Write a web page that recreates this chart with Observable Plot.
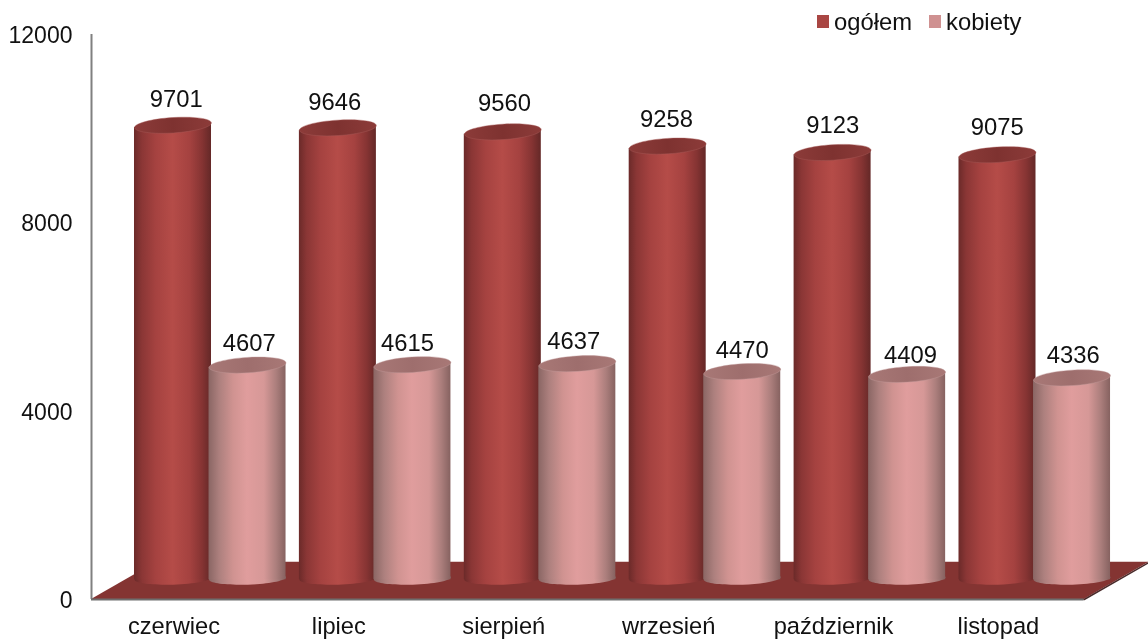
<!DOCTYPE html>
<html><head><meta charset="utf-8">
<script src="https://cdn.jsdelivr.net/npm/d3@7"></script>
<script src="https://cdn.jsdelivr.net/npm/@observablehq/plot@0.6"></script>
<style>
html,body{margin:0;padding:0;background:#fff;overflow:hidden}
#wrap{position:relative;width:1148px;height:644px;font-family:"Liberation Sans",Arial,sans-serif;color:#111;filter:blur(0.3px)}
.lg{position:absolute;font-size:23.8px;line-height:26px;top:9px;white-space:nowrap}
.sw{position:absolute;width:12px;height:13px;top:15px}
</style></head><body>
<div id="wrap">
<div class="sw" style="left:817px;background:#a94643"></div><div class="lg" style="left:834px">ogółem</div>
<div class="sw" style="left:929px;background:#cf9191"></div><div class="lg" style="left:946px">kobiety</div>
</div>
<script>
const months = ["czerwiec","lipiec","sierpień","wrzesień","październik","listopad"];
const ogolem = [9701,9646,9560,9258,9123,9075];
const kobiety = [4607,4615,4637,4470,4409,4336];
const yTicks = [0,4000,8000,12000];

// 3D look: plane offset and sizes of the picture's fake perspective
const depthDx = 35, depthDy = -17.5, baseDy = -21, barUnits = 0.467, slopeUnits = 50, baseUnits = 50;
const ogolemPos = 0.282, kobietyPos = 0.734, floorDepth = 790, floorShift = 0.394, floorEnd = 6.02;
const ogolemDx = [3.2,-3.1,1.7,-1.2,.2,-.3], kobietyDx = [1.7,-4.9,-3.5,0,3.4,1.2];
const ogolemDy = [-43.3,-42.6,-45.6,-44.1,-44.5,-45], kobietyDy = [-38.8,-39,-40,-38.6,-36.4,-39.9];

const rows = (vals, pos, key) => vals.flatMap((v,i)=>[
  {k:key+i, x:i+pos-barUnits/2, base:baseUnits, top:v-slopeUnits},
  {k:key+i, x:i+pos+barUnits/2, base:baseUnits, top:v+slopeUnits}
]);
const ell = ratio => ({draw(c,size){
  const r=Math.sqrt(size/Math.PI), ry=r*ratio, k=0.5523;
  c.moveTo(-r,0);
  c.bezierCurveTo(-r,-ry*k,-r*k,-ry,0,-ry);
  c.bezierCurveTo(r*k,-ry,r,-ry*k,r,0);
  c.bezierCurveTo(r,ry*k,r*k,ry,0,ry);
  c.bezierCurveTo(-r*k,ry,-r,ry*k,-r,0);
  c.closePath();
}});
const stops = (id,cols)=>`<linearGradient id="${id}" x1="0" x2="1" y1="0" y2="0">`+
  cols.map(([o,c])=>`<stop offset="${o}" stop-color="${c}"/>`).join("")+`</linearGradient>`;
const defs = () => {
  const g=document.createElementNS("http://www.w3.org/2000/svg","g");
  g.innerHTML=`<defs>`+
   stops("gO",[[0,"#6b2a29"],[.1,"#8a3635"],[.28,"#a54240"],[.5,"#b54c48"],[.72,"#a54240"],[.88,"#863433"],[1,"#642827"]])+
   stops("gK",[[0,"#8a6664"],[.14,"#ad807e"],[.32,"#d09391"],[.5,"#e09d9d"],[.72,"#d69897"],[.88,"#ab7e7c"],[1,"#866260"]])+
   stops("tO",[[0,"#8c3b39"],[.5,"#7e3230"],[1,"#8c3b39"]])+
   stops("tK",[[0,"#a87876"],[.5,"#9e6e6d"],[1,"#a87876"]])+`</defs>`;
  return g;
};
const bar = (vals,pos,key,body,top) => [
  Plot.dot(vals.map((v,i)=>({x:i+pos})),{x:"x",y:()=>0,r:38.5,symbol:ell(.16),rotate:-2,fill:`url(#${body})`,dx:depthDx,dy:baseDy}),
  Plot.areaY(rows(vals,pos,key),{x:"x",y1:"base",y2:"top",z:"k",fill:`url(#${body})`,curve:"linear",dx:depthDx,dy:depthDy}),
  Plot.dot(vals.map((v,i)=>({x:i+pos,v})),{x:"x",y:"v",r:38.5,symbol:ell(.2),rotate:-3.6,fill:`url(#${top})`,stroke:key[0]==="o"?"#a65a58":"#c09a98",strokeWidth:.6,strokeOpacity:.7,dx:depthDx,dy:depthDy})
];
const ordered = ogolem.flatMap((v,i)=>[
  ...bar([v],ogolemPos+i,"o"+i,"gO","tO"),
  ...bar([kobiety[i]],kobietyPos+i,"k"+i,"gK","tK")
]);
const labels = (vals,pos,ndx,ndy) => vals.map((v,i)=>
  Plot.text([v],{x:()=>i+pos,y:d=>d,text:d=>String(d),dx:depthDx+ndx[i],dy:ndy[i],fontSize:23.8,fill:"#111"}));

const chart = Plot.plot({
  width:1148,height:644,
  marginLeft:91,marginRight:67.6,marginTop:34,marginBottom:45,
  style:{fontFamily:'"Liberation Sans",Arial,sans-serif',background:"transparent",overflow:"visible"},
  x:{type:"linear",domain:[0,months.length],axis:null},
  y:{domain:[0,12000],axis:null},
  marks:[
    defs,
    Plot.areaX([{y:0,a:0,b:floorEnd},{y:floorDepth,a:floorShift,b:floorEnd+floorShift}],{y:"y",x1:"a",x2:"b",fill:"#843432"}),
    Plot.ruleX([0],{y1:0,y2:12000,stroke:"#808080",strokeWidth:2}),
    Plot.ruleY([0],{x1:0,x2:floorEnd,stroke:"#6e6e6e",strokeWidth:2}),
    Plot.lineY([{x:floorEnd,y:0},{x:floorEnd+floorShift,y:floorDepth}],{x:"x",y:"y",stroke:"#4a2a2a",strokeWidth:1.5}),
    ...ordered,
    ...labels(ogolem,ogolemPos,ogolemDx,ogolemDy),
    ...labels(kobiety,kobietyPos,kobietyDx,kobietyDy),
    Plot.axisY({ticks:yTicks,tickSize:0,tickPadding:19,dy:1,fontSize:23,color:"#111",label:null,tickFormat:d=>String(d)}),
    Plot.axisX({ticks:months.map((m,i)=>i+.5),tickFormat:(d)=>months[Math.floor(d)],tickSize:0,tickPadding:18,fontSize:23.7,color:"#111",label:null})
  ]
});
chart.style.position="absolute";chart.style.left="0";chart.style.top="0";
document.getElementById("wrap").prepend(chart);
</script></body></html>
